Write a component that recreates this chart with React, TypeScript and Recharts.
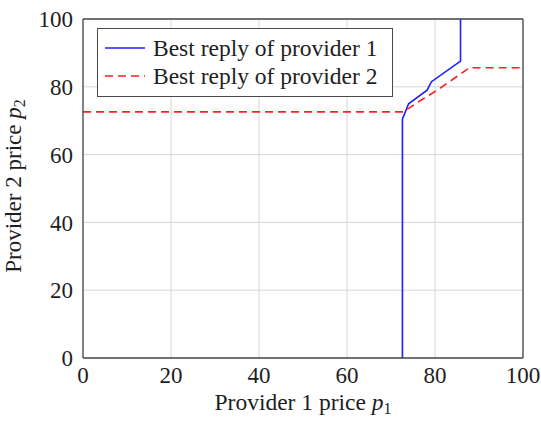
import { CartesianGrid, Line, LineChart, ReferenceLine, XAxis, YAxis } from "recharts";

const TICKS = [0, 20, 40, 60, 80, 100];

// provider 1 best reply: p1 as a function of p2
const reply1 = [
  { x: 72.6, y: 0 },
  { x: 72.6, y: 70.5 },
  { x: 73.0, y: 71.8 },
  { x: 74.0, y: 75.0 },
  { x: 78.2, y: 79.0 },
  { x: 79.2, y: 81.5 },
  { x: 85.8, y: 87.6 },
  { x: 85.8, y: 100 },
];

// provider 2 best reply: p2 as a function of p1
const reply2 = [
  { x: 0, y: 72.6 },
  { x: 72.8, y: 72.6 },
  { x: 76.5, y: 75.8 },
  { x: 80.5, y: 79.0 },
  { x: 84.5, y: 82.6 },
  { x: 87.8, y: 85.6 },
  { x: 100, y: 85.6 },
];

const SERIES = [
  { name: "Best reply of provider 1", color: "#1f1fff", dash: undefined, data: reply1 },
  { name: "Best reply of provider 2", color: "#ff2020", dash: "8 5", data: reply2 },
];

const FONT = "'Liberation Serif', 'Times New Roman', serif";
const FRAME = "#4a4a4a";
const TEXT = "#1e1e1e";

// drawn over the plot, like the pgfplots legend box
function PlotLegend() {
  return (
    <div
      style={{
        position: "absolute",
        left: 97,
        top: 28,
        boxSizing: "border-box",
        width: 296,
        height: 69,
        border: `1.3px solid ${FRAME}`,
        background: "#fff",
        padding: "5px 0 0 7px",
        fontFamily: FONT,
        fontSize: 23.5,
        lineHeight: "28px",
        color: TEXT,
      }}
    >
      {SERIES.map((s) => (
        <div key={s.name} style={{ display: "flex", alignItems: "center", height: 28 }}>
          <svg width={48} height={10}>
            <line
              x1={0}
              y1={5}
              x2={40}
              y2={5}
              stroke={s.color}
              strokeWidth={1.6}
              strokeDasharray={s.dash}
            />
          </svg>
          <span>{s.name}</span>
        </div>
      ))}
    </div>
  );
}

function XLabel({ viewBox }: any) {
  const cx = viewBox.x + viewBox.width / 2;
  return (
    <text x={cx} y={410} textAnchor="middle" fontFamily={FONT} fontSize={23.5} fill={TEXT}>
      Provider 1 price <tspan fontStyle="italic">p</tspan>
      <tspan fontSize={16} dy={4}>1</tspan>
    </text>
  );
}

function YLabel() {
  const bx = 21;
  const cy = 186;
  return (
    <text
      x={bx}
      y={cy}
      transform={`rotate(-90, ${bx}, ${cy})`}
      textAnchor="middle"
      fontFamily={FONT}
      fontSize={23}
      fill={TEXT}
    >
      Provider 2 price <tspan fontStyle="italic">p</tspan>
      <tspan fontSize={16} dy={4}>2</tspan>
    </text>
  );
}

export default function App() {
  const tickStyle = { fontFamily: FONT, fontSize: 23, fill: TEXT };
  return (
    <div style={{ position: "absolute", left: 0, top: 0, width: 541, height: 426, background: "#fff", overflow: "hidden" }}>
      <LineChart width={541} height={426} margin={{ top: 19, right: 18, left: 0, bottom: 0 }} style={{ overflow: "visible" }}>
        <CartesianGrid stroke="#d6d6d6" strokeWidth={1} />
        <XAxis
          type="number"
          dataKey="x"
          domain={[0, 100]}
          ticks={TICKS}
          height={68}
          tickLine={false}
          tickSize={0}
          tickMargin={9}
          axisLine={{ stroke: FRAME, strokeWidth: 1.3 }}
          tick={tickStyle}
          label={<XLabel />}
        />
        <YAxis
          type="number"
          dataKey="y"
          domain={[0, 100]}
          ticks={TICKS}
          width={83}
          tickLine={false}
          tickSize={0}
          tickMargin={10}
          axisLine={{ stroke: FRAME, strokeWidth: 1.3 }}
          tick={tickStyle}
          label={<YLabel />}
        />
        <ReferenceLine y={100} stroke={FRAME} strokeWidth={1.3} />
        <ReferenceLine x={100} stroke={FRAME} strokeWidth={1.3} />
        {SERIES.map((s) => (
          <Line
            key={s.name}
            data={s.data}
            dataKey="y"
            name={s.name}
            type="linear"
            stroke={s.color}
            strokeWidth={1.6}
            strokeDasharray={s.dash}
            dot={false}
            activeDot={false}
            isAnimationActive={false}
          />
        ))}
      </LineChart>
      <PlotLegend />
    </div>
  );
}
